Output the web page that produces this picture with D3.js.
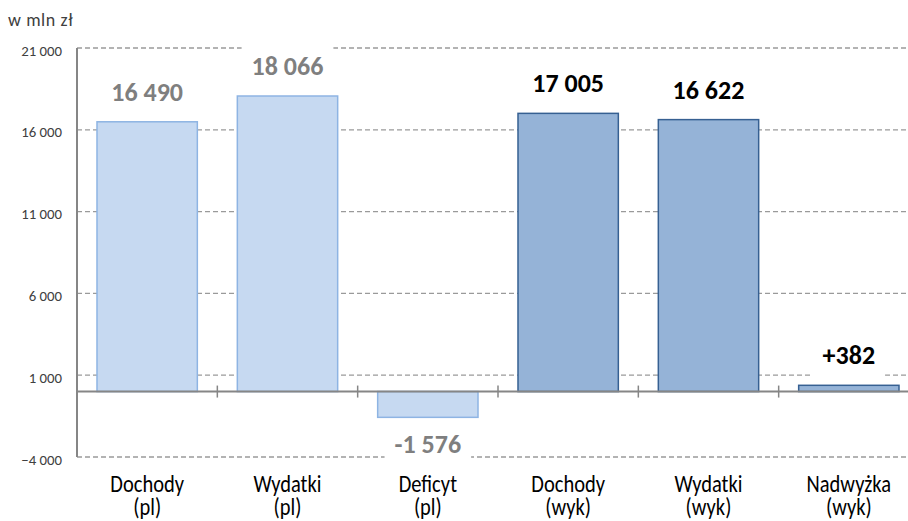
<!DOCTYPE html>
<html>
<head>
<meta charset="utf-8">
<script src="https://cdn.jsdelivr.net/npm/d3@7"></script>
<style>
body { margin: 0; background: #fff; }
svg { font-family: Calibri, Carlito, Lato, "Open Sans", sans-serif; }
</style>
</head>
<body>
<svg width="908" height="521"></svg>
<script>
var categories = ["Dochody|(pl)", "Wydatki|(pl)", "Deficyt|(pl)", "Dochody|(wyk)", "Wydatki|(wyk)", "Nadwyżka|(wyk)"];
var values = [16490, 18066, -1576, 17005, 16622, 382];
var labels = ["16 490", "18 066", "-1 576", "17 005", "16 622", "+382"];
var kinds = ["pl", "pl", "pl", "wyk", "wyk", "wyk"];
var yTicks = [-4000, 1000, 6000, 11000, 16000, 21000];

var svg = d3.select("svg");
var x = d3.scaleBand().domain(categories).range([77, 919]).paddingInner(0.285).paddingOuter(0.1425);
var y = d3.scaleLinear().domain([-4000, 21000]).range([457, 48]);

// gridlines
svg.append("g").selectAll("line")
    .data(yTicks)
    .enter()
    .append("line")
    .attr("x1", 77).attr("x2", 908)
    .attr("y1", function(d) { return y(d); })
    .attr("y2", function(d) { return y(d); })
    .attr("stroke", "#9a9a9a")
    .attr("stroke-width", 1.3)
    .attr("stroke-dasharray", "5,3");

// tick labels
svg.append("g").selectAll("text")
    .data(yTicks)
    .enter()
    .append("text")
    .attr("x", 62)
    .attr("y", function(d) { return y(d) + 7.5; })
    .attr("text-anchor", "end")
    .attr("font-size", 14.8)
    .attr("font-weight", 300)
    .attr("fill", "#404040")
    .text(function(d) { return d3.format(",")(d).replace(/,/g, " "); });

svg.append("text")
    .attr("x", 8).attr("y", 26)
    .attr("font-size", 18)
    .attr("font-weight", 300)
    .attr("letter-spacing", 0.6)
    .attr("fill", "#404040")
    .text("w mln zł");

// bars
svg.append("g").selectAll("rect")
    .data(values)
    .enter()
    .append("rect")
    .attr("x", function(d, i) { return x(categories[i]); })
    .attr("width", x.bandwidth())
    .attr("y", function(d) { return y(Math.max(0, d)); })
    .attr("height", function(d) { return Math.abs(y(d) - y(0)); })
    .attr("fill", function(d, i) { return kinds[i] == "pl" ? "#c6d9f1" : "#95b3d7"; })
    .attr("stroke", function(d, i) { return kinds[i] == "pl" ? "#8eb4e3" : "#366092"; })
    .attr("stroke-width", 1.5);

// axes lines
svg.append("line")
    .attr("x1", 77).attr("x2", 908)
    .attr("y1", y(0)).attr("y2", y(0))
    .attr("stroke", "#868686").attr("stroke-width", 2);
svg.append("line")
    .attr("x1", 77).attr("x2", 77)
    .attr("y1", y(21000)).attr("y2", y(-4000))
    .attr("stroke", "#868686").attr("stroke-width", 2);

// category ticks on zero line
svg.append("g").selectAll("line")
    .data(categories.slice(1))
    .enter()
    .append("line")
    .attr("x1", function(d) { return x(d) - x.step() * x.paddingInner() / 2; })
    .attr("x2", function(d) { return x(d) - x.step() * x.paddingInner() / 2; })
    .attr("y1", y(0) - 6).attr("y2", y(0) + 6)
    .attr("stroke", "#868686").attr("stroke-width", 1.5);

// value labels with white background
var lab = svg.append("g").selectAll("g")
    .data(values)
    .enter()
    .append("g")
    .attr("transform", function(d, i) {
        var cx = x(categories[i]) + x.bandwidth() / 2;
        var cy = d >= 0 ? y(d) - 21 : y(d) + 36;
        return "translate(" + cx + "," + cy + ")";
    });
lab.append("text")
    .attr("text-anchor", "middle")
    .attr("font-size", 26)
    .attr("font-weight", "bold")
    .attr("fill", function(d, i) { return kinds[i] == "pl" ? "#7f7f7f" : "#000"; })
    .text(function(d, i) { return labels[i]; });
lab.each(function() {
    var g = d3.select(this);
    var bb = g.select("text").node().getBBox();
    g.insert("rect", "text")
        .attr("x", bb.x - 10).attr("y", bb.y - 8)
        .attr("width", bb.width + 20).attr("height", bb.height + 14)
        .attr("fill", "#fff");
});

// category labels (two lines, slightly tall glyphs as in the original)
var cl = svg.append("g").selectAll("g")
    .data(categories)
    .enter()
    .append("g")
    .attr("transform", function(d) { return "translate(" + (x(d) + x.bandwidth() / 2) + ",0)"; });
cl.append("text")
    .attr("text-anchor", "middle")
    .attr("font-size", 20.5)
    .attr("font-weight", 300)
    .attr("fill", "#000")
    .attr("transform", "translate(0,491.5) scale(1,1.15)")
    .text(function(d) { return d.split("|")[0]; });
cl.append("text")
    .attr("text-anchor", "middle")
    .attr("font-size", 20.5)
    .attr("font-weight", 300)
    .attr("fill", "#000")
    .attr("transform", "translate(0,515) scale(1,1.15)")
    .text(function(d) { return d.split("|")[1]; });
</script>
</body>
</html>
